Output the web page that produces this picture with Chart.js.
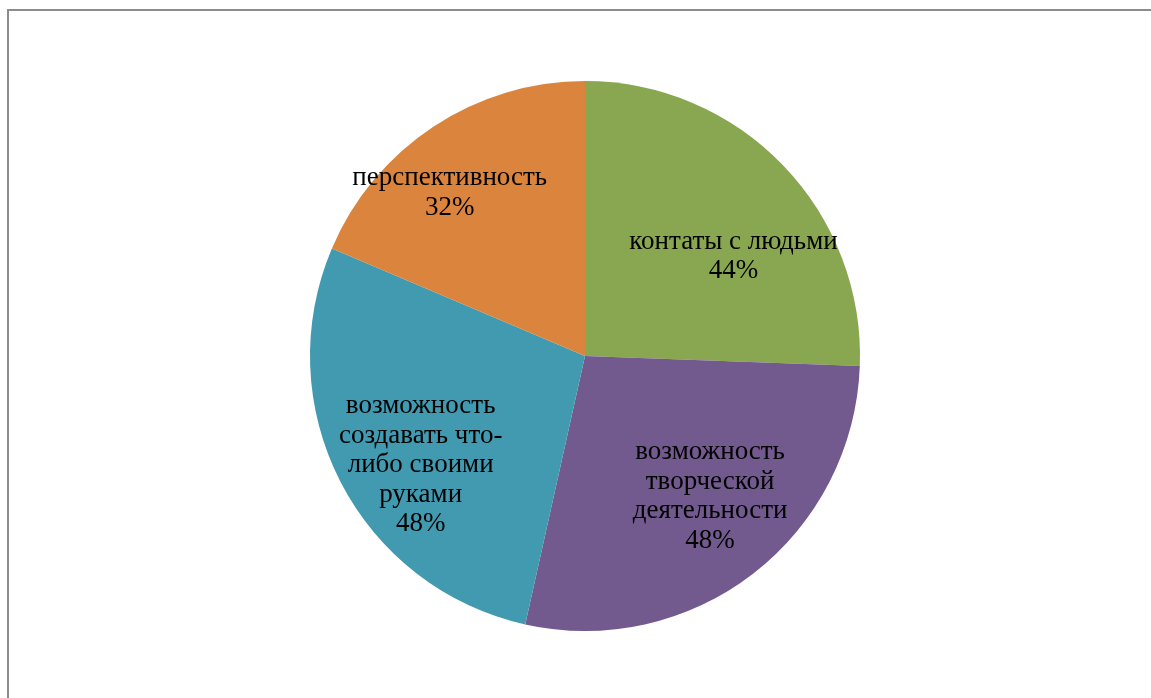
<!DOCTYPE html>
<html>
<head>
<meta charset="utf-8">
<script src="https://cdn.jsdelivr.net/npm/chart.js@4"></script>
<style>
  html, body { margin: 0; padding: 0; background: #fff; }
  body { width: 1151px; height: 698px; position: relative; overflow: hidden; }
  #frame { position: absolute; left: 7px; top: 9px; width: 1200px; height: 800px;
           border-left: 2px solid #8c8c8c; border-top: 2px solid #8c8c8c; }
  #wrap { position: absolute; left: 0; top: 0; width: 1151px; height: 698px; }
</style>
</head>
<body>
<div id="frame"></div>
<div id="wrap"><canvas id="c" width="1151" height="698"></canvas></div>
<script>
const categories = [
  ['контаты с людьми'],
  ['возможность', 'творческой', 'деятельности'],
  ['возможность', 'создавать что-', 'либо своими', 'руками'],
  ['перспективность']
];
const values = [44, 48, 48, 32];
const colors = ['#89A650', '#72598E', '#429AB0', '#DB843D'];

// label placement: fraction along slice angle, fraction of radius
const labelPlacement = [
  { frac: 0.61, rad: 0.65 },
  { frac: 0.46, rad: 0.684 },
  { frac: 0.437, rad: 0.717 },
  { frac: 0.408, rad: 0.771 }
];

const labelPlugin = {
  id: 'sliceLabels',
  afterDatasetsDraw(chart) {
    const ctx = chart.ctx;
    const meta = chart.getDatasetMeta(0);
    ctx.save();
    ctx.font = '27px "Liberation Serif", "Times New Roman", serif';
    ctx.fillStyle = '#000';
    ctx.textAlign = 'center';
    ctx.textBaseline = 'middle';
    const lh = 29.5;
    meta.data.forEach((arc, i) => {
      const p = arc.getProps(['x', 'y', 'startAngle', 'endAngle', 'outerRadius'], true);
      const pl = labelPlacement[i];
      const a = p.startAngle + (p.endAngle - p.startAngle) * pl.frac;
      const cx = p.x + Math.cos(a) * p.outerRadius * pl.rad;
      const cy = p.y + Math.sin(a) * p.outerRadius * pl.rad;
      const lines = categories[i].concat([values[i] + '%']);
      const y0 = cy - (lines.length - 1) * lh / 2;
      lines.forEach((t, k) => ctx.fillText(t, cx, y0 + k * lh));
    });
    ctx.restore();
  }
};

new Chart(document.getElementById('c'), {
  type: 'pie',
  data: {
    labels: categories,
    datasets: [{
      data: values,
      backgroundColor: colors,
      borderWidth: 0,
      hoverOffset: 0
    }]
  },
  options: {
    responsive: false,
    animation: false,
    devicePixelRatio: 1,
    layout: { padding: { top: 81, bottom: 67, left: 310, right: 291 } },
    plugins: {
      legend: { display: false },
      tooltip: { enabled: false }
    }
  },
  plugins: [labelPlugin]
});
</script>
</body>
</html>
